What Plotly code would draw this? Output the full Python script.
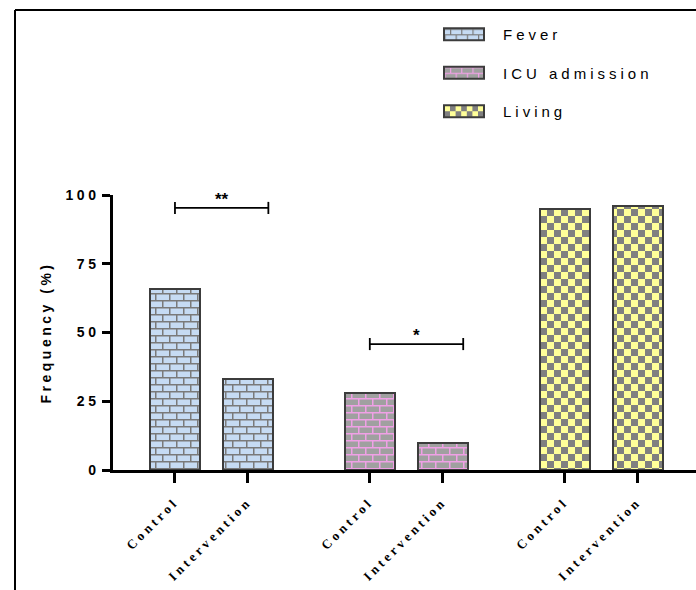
import plotly.graph_objects as go

# ---- data ----
groups = ["Fever", "ICU admission", "Living"]
arms = ["Control", "Intervention"]
group_offsets = [0.0, 2.67, 5.34]
fever_vals = [66, 33]
icu_vals = [28, 10]
living_vals = [95, 96]
tick_labels = ["Control", "Intervention"] * 3
y_ticks = [0, 25, 50, 75, 100]
# significance brackets: (group index, y level, right-end offset, label)
sig_groups = [0, 1]
sig_levels = [95.3, 45.8]
sig_ends = [1.28, 1.28]
sig_labels = ["**", "*"]

values = [fever_vals, icu_vals, living_vals]
styles = [
    dict(shape="+", bgcolor="#c6dbf3", fgcolor="#7a7a7a", size=8, solidity=0.22),
    dict(shape="+", bgcolor="#a0a0a0", fgcolor="#f0a0e6", size=8, solidity=0.22),
    dict(shape=".", bgcolor="#ffff99", fgcolor="#808080", size=13, solidity=0.45),
]

fig = go.Figure()
xs_all = []
for gi, g in enumerate(groups):
    xs = [group_offsets[gi] + k for k in range(len(arms))]
    xs_all += xs
    fig.add_trace(go.Bar(
        x=xs, y=values[gi], name=g, width=0.685,
        legendgroup=g,
        marker=dict(pattern=dict(fillmode="replace", **styles[gi]),
                    line=dict(color="#3c3c3c", width=2)),
    ))

cap = 2.2
for gi, lvl, end, lab in zip(sig_groups, sig_levels, sig_ends, sig_labels):
    x0 = group_offsets[gi]
    x1 = group_offsets[gi] + end
    fig.add_trace(go.Scatter(
        x=[x0, x0, None, x0, x1, None, x1, x1],
        y=[lvl - cap, lvl + cap, None, lvl, lvl, None, lvl - cap, lvl + cap],
        mode="lines", line=dict(color="black", width=1.8),
        showlegend=False, hoverinfo="skip"))
    fig.add_annotation(x=(x0 + x1) / 2, y=lvl, text="<b>" + lab + "</b>",
                       showarrow=False, yanchor="bottom", yshift=-3,
                       font=dict(size=17, color="black", family="Arial"))

# frame lines
fx = -98 / 583
fy = 1 + 185 / 275
fig.add_shape(type="line", xref="paper", yref="paper", x0=fx, x1=fx,
              y0=fy, y1=-130 / 275, line=dict(color="black", width=2))
fig.add_shape(type="line", xref="paper", yref="paper", x0=fx, x1=1.05,
              y0=fy, y1=fy, line=dict(color="black", width=2))

fig.update_layout(
    width=696, height=590,
    margin=dict(l=113, r=0, t=195, b=120),
    plot_bgcolor="white", paper_bgcolor="white",
    bargap=0,
    legend=dict(x=(453 - 113) / 583, y=1 + 177 / 275, xanchor="left", yanchor="top",
                font=dict(family="Arial", size=15, color="black"),
                tracegroupgap=16, itemwidth=40),
    xaxis=dict(range=[-0.849, 7.14], tickvals=xs_all, ticktext=tick_labels,
               tickangle=-45, showline=True, linecolor="black", linewidth=3,
               ticks="outside", ticklen=10, tickwidth=2.5, tickcolor="black",
               ticklabelstandoff=6,
               showgrid=False, zeroline=False,
               tickfont=dict(family="Liberation Serif", size=13, color="black", weight="bold")),
    yaxis=dict(range=[0, 100], tickvals=y_ticks, showline=True, linecolor="black",
               linewidth=2.5, ticks="outside", ticklen=8, tickwidth=2.5, tickcolor="black",
               showgrid=False, zeroline=False,
               tickfont=dict(family="Arial", size=14, color="black", weight="bold"),
               title=dict(text="Frequency (%)", standoff=22,
                          font=dict(family="Arial", size=14, color="black", weight="bold"))),
    showlegend=True,
)

css = (
    "body{margin:0;padding:0;overflow:hidden}"
    ".xtick text{letter-spacing:3.5px}"
    ".ytick text{letter-spacing:3.5px}"
    ".g-ytitle text{letter-spacing:3.5px}"
    ".legendtext{letter-spacing:4px}"
    ".legend .scrollbox{clip-path:none !important}"
    ".legend{clip-path:none !important}"
)
post = (
    "var s=document.createElement('style');s.innerHTML=" + repr(css) +
    ";document.head.appendChild(s);"
    "document.querySelectorAll('.legendpoints path').forEach(function(p){"
    "p.setAttribute('d','M6,6H-34V-6H6Z');});"
    "try{var NS='http://www.w3.org/2000/svg';var S=14,H=7;"
    "document.querySelectorAll('pattern').forEach(function(pt){"
    " var c=pt.querySelector('circle'),p=pt.querySelector('path'),r=pt.querySelector('rect');"
    " pt.setAttribute('width',S);pt.setAttribute('height',S);"
    " if(r){r.setAttribute('width',S);r.setAttribute('height',S);}"
    " if(c){var fg=getComputedStyle(c).fill;c.parentNode.removeChild(c);"
    "  [[0,0],[H,H]].forEach(function(o){var q=document.createElementNS(NS,'rect');"
    "  q.setAttribute('x',o[0]);q.setAttribute('y',o[1]);q.setAttribute('width',H);"
    "  q.setAttribute('height',H);q.setAttribute('fill',fg);q.style.fill=fg;pt.appendChild(q);});}"
    " else if(p){p.setAttribute('d','M0,0.75H14M0,7.75H14M0.75,0V7M7.75,7V14');"
    "  p.style.strokeWidth='1.5px';p.setAttribute('stroke-width','1.5');}"
    "});}catch(e){}"
)

fig.write_html("out.html", post_script=post, config={"displayModeBar": False})
